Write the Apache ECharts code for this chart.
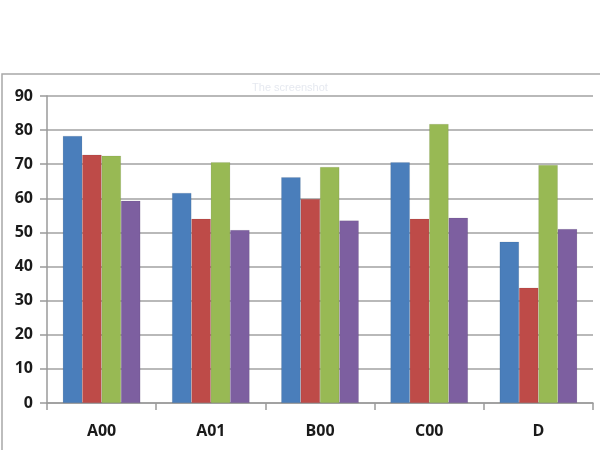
<!DOCTYPE html>
<html>
<head>
<meta charset="utf-8">
<script src="https://cdn.jsdelivr.net/npm/echarts@6/dist/echarts.min.js"></script>
<style>
  html, body { margin: 0; padding: 0; background: #fff; }
  #chart { width: 600px; height: 450px; }
</style>
</head>
<body>
<div id="chart"></div>
<script>
// data
var categories = ['A00', 'A01', 'B00', 'C00', 'D'];
var seriesBlue = [78.3, 61.6, 66.2, 70.6, 47.3];
var seriesRed = [72.8, 54.0, 59.8, 54.0, 33.8];
var seriesGreen = [72.5, 70.6, 69.2, 81.8, 69.8];
var seriesPurple = [59.3, 50.7, 53.5, 54.3, 51.0];
var yTicks = [0, 10, 20, 30, 40, 50, 60, 70, 80, 90];

(function () {
    var myChart = echarts.init(document.getElementById('chart'));
    var colorList = ['#4a7ebb', '#be4b48', '#98b954', '#7d5fa0'];

    function bar(data, i) {
        return {
            type: 'bar',
            data: data,
            barGap: '0%',
            barCategoryGap: '29%',
            itemStyle: {
                color: colorList[i],
                borderColor: 'rgba(0,0,0,0.15)',
                borderWidth: 0.5
            }
        };
    }

    var option = {
        animation: false,
        color: colorList,
        title: {
            text: 'The screenshot',
            left: 285,
            top: 77,
            textAlign: 'center',
            textStyle: {
                color: '#e6e9f0',
                fontSize: 11,
                fontWeight: 'normal',
                fontFamily: 'Liberation Sans'
            }
        },
        // outer frame (top and left edge)
        graphic: [
            {
                type: 'rect',
                shape: { x: 2, y: 74, width: 640, height: 420 },
                style: { fill: 'none', stroke: '#a8a8a8', lineWidth: 1.5 },
                z: -1
            }
        ],
        grid: {
            left: 47,
            right: 7,
            top: 96,
            bottom: 47
        },
        xAxis: {
            type: 'category',
            data: categories,
            axisLine: { lineStyle: { color: '#9a9a9a', width: 1.5 } },
            axisTick: { show: true, length: 7, lineStyle: { color: '#9a9a9a', width: 1.5 } },
            axisLabel: {
                color: '#1a1a1a',
                fontSize: 16,
                fontWeight: 'bold',
                fontFamily: 'Open Sans',
                margin: 20
            }
        },
        yAxis: {
            type: 'value',
            min: yTicks[0],
            max: yTicks[yTicks.length - 1],
            interval: 10,
            axisLine: { show: true, lineStyle: { color: '#9a9a9a', width: 1.5 } },
            axisTick: { show: true, length: 7, lineStyle: { color: '#9a9a9a', width: 1.5 } },
            axisLabel: {
                color: '#1a1a1a',
                fontSize: 16,
                fontWeight: 'bold',
                fontFamily: 'Open Sans',
                margin: 14
            },
            splitLine: { lineStyle: { color: '#a2a2a2', width: 1.5 } }
        },
        series: [
            bar(seriesBlue, 0),
            bar(seriesRed, 1),
            bar(seriesGreen, 2),
            bar(seriesPurple, 3)
        ]
    };
    myChart.setOption(option);
})();
</script>
</body>
</html>
